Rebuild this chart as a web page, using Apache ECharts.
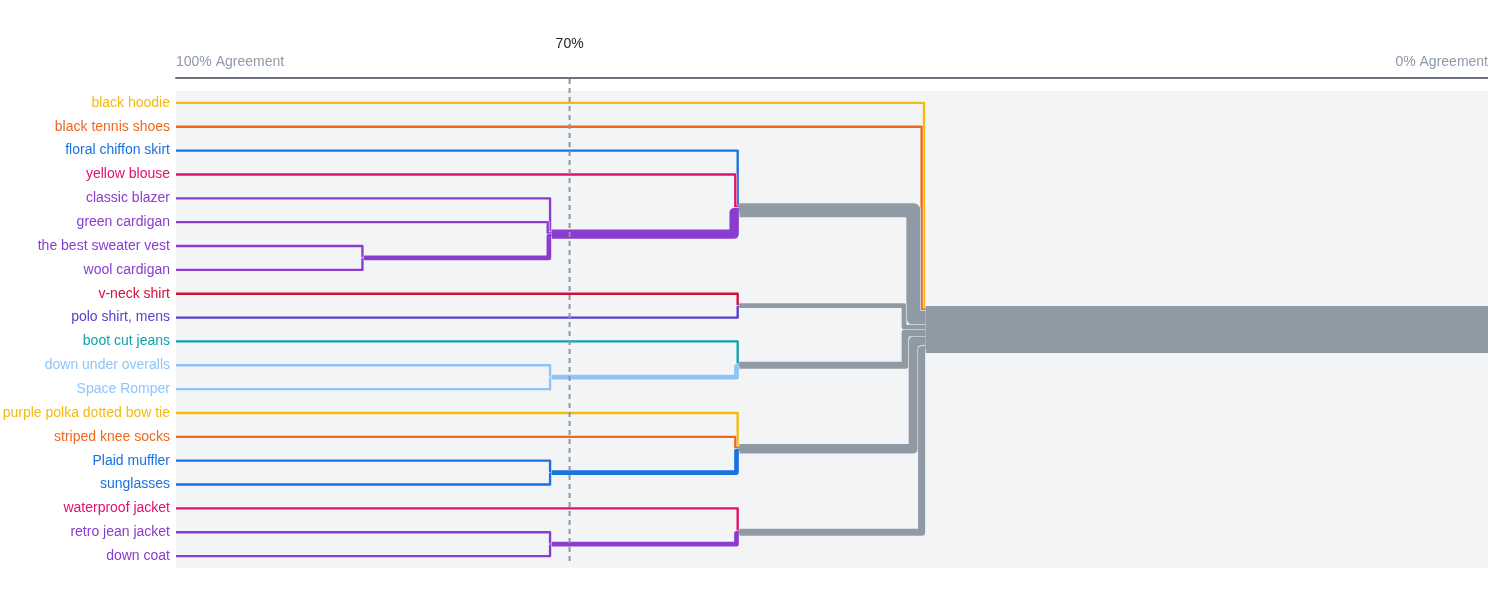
<!DOCTYPE html>
<html>
<head>
<meta charset="utf-8">
<style>
  html, body { margin: 0; padding: 0; background: #ffffff; overflow: hidden; }
  #chart { width: 1488px; height: 615px; }
</style>
<script src="https://cdn.jsdelivr.net/npm/echarts@6/dist/echarts.min.js"></script>
</head>
<body>
<div id="chart"></div>
<script>
// ---- data ----
const labels = [
  'black hoodie', 'black tennis shoes', 'floral chiffon skirt', 'yellow blouse',
  'classic blazer', 'green cardigan', 'the best sweater vest', 'wool cardigan',
  'v-neck shirt', 'polo shirt, mens', 'boot cut jeans', 'down under overalls',
  'Space Romper', 'purple polka dotted bow tie', 'striped knee socks', 'Plaid muffler',
  'sunglasses', 'waterproof jacket', 'retro jean jacket', 'down coat'
];
const leafColors = [
  '#f5b90f', '#f2661c', '#1a72e0', '#e0106e',
  '#8a3ccf', '#8a3ccf', '#8a3ccf', '#8a3ccf',
  '#cf1038', '#5a3dcf', '#0ea2ad', '#8fc4f9',
  '#8fc4f9', '#f5b90f', '#f2661c', '#1a72e0',
  '#1a72e0', '#e0106e', '#8a3ccf', '#8a3ccf'
];
// merges: children (leaf index 0-19, merge node = 20 + merge index)
const merges = [
  [6, 7],                      // 20
  [4, 5, 20],                  // 21
  [2, 3, 21],                  // 22
  [8, 9],                      // 23
  [11, 12],                    // 24
  [10, 24],                    // 25
  [15, 16],                    // 26
  [13, 14, 26],                // 27
  [18, 19],                    // 28
  [17, 28],                    // 29
  [0, 1, 22, 23, 25, 27, 29]   // 30 (root)
];
// agreement (%) at which each merge happens
const mergeAgreement = [85.7, 71.4, 57.1, 57.1, 71.4, 57.1, 71.4, 57.1, 71.4, 57.1, 42.9];
const thresholds = [70];
const thresholdLabels = ['70%'];
const axisEndLabels = ['100% Agreement', '0% Agreement'];

// ---- style ----
const GRAY = '#8f9aa5';
const BG = '#f3f4f6';
const K = 2.35; // px of stroke width per item in a cluster
const FONT = 'Liberation Sans, Arial, Helvetica, sans-serif';

// ---- build tree layout (data space) ----
const nodeN = [], nodeY = [], nodeX = [], nodeColor = [];
labels.forEach((l, i) => { nodeN.push(1); nodeY.push(i); nodeX.push(100); nodeColor.push(leafColors[i]); });
merges.forEach((ch, m) => {
  let n = 0, sy = 0;
  ch.forEach(c => { n += nodeN[c]; sy += nodeN[c] * nodeY[c]; });
  const cols = ch.map(c => nodeColor[c]);
  nodeN.push(n);
  nodeY.push(sy / n);
  nodeX.push(mergeAgreement[m]);
  nodeColor.push(cols.every(c => c === cols[0]) ? cols[0] : GRAY);
});
const rootId = nodeN.length - 1;

const linkData = [], linkInfo = [];
// root outgoing bar
linkData.push([nodeX[rootId], nodeY[rootId], 0, nodeY[rootId]]);
linkInfo.push({ n: nodeN[rootId], bar: true, color: nodeColor[rootId] });
for (let m = merges.length - 1; m >= 0; m--) {
  const p = labels.length + m;
  const ch = merges[m].slice().sort((a, b) => nodeY[a] - nodeY[b]);
  let slot = 0;
  const slots = {};
  ch.forEach(c => { slots[c] = slot; slot += nodeN[c]; });
  const above = ch.filter(c => nodeY[c] < nodeY[p]);
  const below = ch.filter(c => nodeY[c] >= nodeY[p]).reverse();
  const outer = {};
  let o = 0; above.forEach(c => { outer[c] = o; o += nodeN[c]; });
  o = 0; below.forEach(c => { outer[c] = o; o += nodeN[c]; });
  ch.forEach(c => {
    linkData.push([nodeX[c], nodeY[c], nodeX[p], nodeY[p]]);
    linkInfo.push({ n: nodeN[c], pn: nodeN[p], slot: slots[c], outer: outer[c], color: nodeColor[c] });
  });
}

function renderLink(params, api) {
  const info = linkInfo[params.dataIndex];
  const c = api.coord([api.value(0), api.value(1)]);
  const p = api.coord([api.value(2), api.value(3)]);
  const w = info.n * K;
  let pts;
  if (info.bar) {
    pts = [[c[0], c[1]], [p[0], p[1]]];
  } else {
    const top = p[1] - info.pn * K / 2;
    const sc = top + (info.slot + info.n / 2) * K;
    const xv = p[0] - info.outer * K - w / 2;
    pts = [[c[0], c[1]], [xv, c[1]], [xv, sc], [p[0], sc]];
  }
  return {
    type: 'group',
    children: [
      { type: 'polyline', shape: { points: pts },
        style: { stroke: BG, lineWidth: w + 1.2, fill: null, lineJoin: 'round', lineCap: 'butt' } },
      { type: 'polyline', shape: { points: pts },
        style: { stroke: info.color, lineWidth: w, fill: null, lineJoin: 'round', lineCap: 'butt' } }
    ]
  };
}

function renderThreshold(params, api) {
  const a = api.coord([api.value(0), -0.5]);
  const b = api.coord([api.value(0), 19.3]);
  return {
    type: 'group',
    children: [
      { type: 'line', shape: { x1: a[0], y1: a[1] - 12, x2: b[0], y2: b[1] },
        style: { stroke: '#8a96a3', lineWidth: 2, lineDash: [5, 4] } },
      { type: 'text', x: a[0], y: a[1] - 47,
        style: { text: thresholdLabels[params.dataIndex], fill: '#1f1f1f', font: '14px ' + FONT,
                 align: 'center', verticalAlign: 'middle' } }
    ]
  };
}

const chart = echarts.init(document.getElementById('chart'), null, { renderer: 'canvas' });
chart.setOption({
  animation: false,
  backgroundColor: '#ffffff',
  grid: {
    left: 176, right: 0, top: 91, bottom: 47, show: true, backgroundColor: BG, borderWidth: 0,
    containLabel: false, outerBoundsMode: 'none'
  },
  xAxis: {
    type: 'value', min: 0, max: 100, interval: 100, inverse: true,
    position: 'top', offset: 13,
    axisLine: { show: true, onZero: false, lineStyle: { color: '#6b7580', width: 2 } },
    axisTick: { show: false }, splitLine: { show: false },
    axisLabel: {
      color: '#8f9aa5', fontSize: 14, fontFamily: FONT, margin: 9,
      alignMinLabel: 'right', alignMaxLabel: 'left',
      formatter: v => (v === 100 ? axisEndLabels[0] : axisEndLabels[1])
    }
  },
  yAxis: [
    {
      type: 'category', data: labels, inverse: true, boundaryGap: true,
      axisLine: { show: false }, axisTick: { show: false }, splitLine: { show: false },
      axisLabel: { fontSize: 14, fontFamily: FONT, margin: 6, color: (v, i) => leafColors[i] }
    },
    {
      type: 'value', min: -0.5, max: 19.5, inverse: true, show: false,
      splitLine: { show: false }
    }
  ],
  series: [
    {
      type: 'custom', xAxisIndex: 0, yAxisIndex: 1, renderItem: renderLink,
      data: linkData, clip: false, silent: true, z: 2
    },
    {
      type: 'custom', xAxisIndex: 0, yAxisIndex: 1, renderItem: renderThreshold,
      data: thresholds.map(t => [t]), clip: false, silent: true, z: 3
    }
  ]
});
</script>
</body>
</html>
